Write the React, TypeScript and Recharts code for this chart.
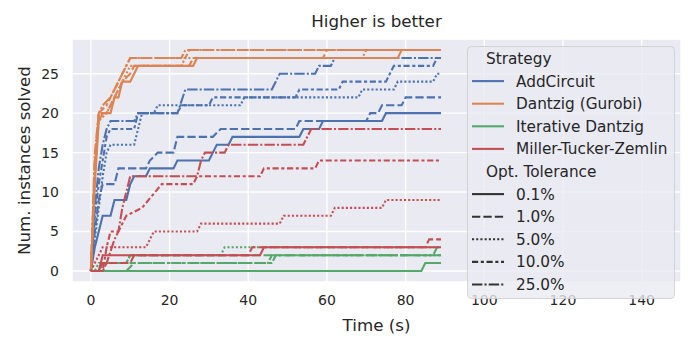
import { LineChart, Line, XAxis, YAxis, CartesianGrid } from "recharts"

type Pt = [number, number]

const BLUE = "#4C72B0"
const ORANGE = "#DD8452"
const GREEN = "#55A868"
const RED = "#C44E52"
const INK = "#262626"
const FONT = "'DejaVu Sans', sans-serif"

const STRATEGIES = ["AddCircuit", "Dantzig (Gurobi)", "Iterative Dantzig", "Miller-Tucker-Zemlin"]
const STRATEGY_COLORS = [BLUE, ORANGE, GREEN, RED]
const TOLERANCES = ["0.1%", "1.0%", "5.0%", "10.0%", "25.0%"]
// seaborn default dash cycle, scaled by the 2px line width
const DASHES = [undefined, "8.3 3.1", "2.1 2.1", "6.2 2.6 3.1 2.6", "10.4 2.1 2.1 2.1"]

const X_TICKS = [0, 20, 40, 60, 80, 100, 120, 140]
const Y_TICKS = [0, 5, 10, 15, 20, 25]

// vertices of each curve: [time (s), instances solved]
const addCircuit01: Pt[] = [[0, 0], [1, 3], [2, 5], [3, 7], [5, 7], [6, 9], [9, 9], [10, 11], [11, 12], [14, 12], [15, 13], [21, 13], [22, 14], [30, 14], [31, 15], [32, 16], [35, 16], [36, 17], [53, 17], [54, 18], [58, 18], [59, 19], [74, 19], [75, 20], [89, 20]]
const addCircuit1: Pt[] = [[0, 0], [1, 5], [2, 9], [3, 11], [6, 11], [7, 13], [14, 13], [15, 14], [17, 15], [21, 15], [22, 17], [31, 17], [33, 18], [52, 18], [53, 19], [70, 19], [71, 20], [73, 20], [74, 21], [79, 21], [80, 22], [89, 22]]
const addCircuit5: Pt[] = [[0, 0], [1, 4], [2, 8], [3, 12], [4, 15], [5, 16], [11, 16], [12, 18], [13, 20], [16, 20], [17, 21], [38, 21], [39, 22], [68, 22], [69, 23], [77, 23], [78, 24], [87, 24], [88, 25], [89, 25]]
const addCircuit10: Pt[] = [[0, 0], [1, 7], [2, 11], [3, 14], [4, 17], [5, 18], [11, 18], [12, 20], [22, 20], [23, 21], [30, 21], [31, 22], [52, 22], [53, 23], [63, 23], [64, 24], [75, 24], [77, 26], [87, 26], [88, 27], [89, 27]]
const addCircuit25: Pt[] = [[0, 0], [1, 8], [2, 13], [3, 16], [4, 18], [5, 19], [11, 19], [12, 20], [22, 20], [24, 23], [46, 23], [48, 25], [57, 25], [58, 26], [61, 26], [62, 27], [89, 27]]

const dantzig01: Pt[] = [[0, 0], [1, 11], [2, 19], [3, 20], [5, 20], [6, 22], [7, 22], [8, 24], [10, 24], [11, 25], [12, 26], [26, 26], [27, 27], [78, 27], [79, 28], [89, 28]]
const dantzig1: Pt[] = [[0, 0], [1, 12], [2, 20], [4, 20], [5, 21], [6, 22], [8, 24], [10, 25], [11, 26], [25, 26], [26, 27], [59, 27], [60, 28], [89, 28]]
const dantzig5: Pt[] = [[0, 0], [1, 13], [2, 19], [4, 20], [6, 22], [8, 24], [9, 25], [10, 26], [23, 26], [24, 27], [69, 27], [70, 28], [89, 28]]
const dantzig10: Pt[] = [[0, 0], [1, 14], [2, 20], [4, 21], [6, 23], [8, 25], [9, 26], [10, 27], [24, 27], [25, 28], [89, 28]]
const dantzig25: Pt[] = [[0, 0], [1, 15], [2, 20], [3, 21], [5, 22], [7, 24], [8, 25], [9, 26], [10, 27], [23, 27], [24, 28], [89, 28]]

const iterative01: Pt[] = [[0, 0], [84, 0], [85, 1], [89, 1]]
const iterative1: Pt[] = [[0, 0], [2, 0], [3, 1], [9, 1], [10, 2], [87, 2], [88, 3], [89, 3]]
const iterative5: Pt[] = [[0, 0], [1, 0], [2, 1], [9, 1], [10, 2], [33, 2], [34, 3], [89, 3]]
const iterative10: Pt[] = [[0, 0], [2, 0], [3, 1], [46, 1], [47, 2], [89, 2]]
const iterative25: Pt[] = [[0, 0], [9, 0], [11, 1], [45, 1], [46, 2], [89, 2]]

const mtz01: Pt[] = [[0, 0], [2, 0], [3, 2], [43, 2], [44, 3], [89, 3]]
const mtz1: Pt[] = [[0, 0], [2, 0], [3, 1], [10, 1], [11, 2], [40, 2], [41, 3], [85, 3], [86, 4], [89, 4]]
const mtz5: Pt[] = [[0, 0], [1, 1], [3, 3], [14, 3], [15, 4], [16, 5], [27, 5], [28, 6], [48, 6], [49, 7], [61, 7], [62, 8], [74, 8], [75, 9], [89, 9]]
const mtz10: Pt[] = [[0, 0], [3, 0], [4, 3], [5, 5], [7, 5], [9, 7], [13, 8], [18, 11], [26, 11], [27, 12], [43, 12], [44, 13], [57, 13], [58, 14], [89, 14]]
const mtz25: Pt[] = [[0, 0], [3, 0], [4, 1], [6, 4], [7, 5], [8, 8], [9, 10], [10, 12], [27, 12], [28, 14], [29, 15], [34, 15], [35, 16], [54, 16], [55, 17], [56, 18], [89, 18]]

const CURVES: Pt[][][] = [
  [addCircuit01, addCircuit1, addCircuit5, addCircuit10, addCircuit25],
  [dantzig01, dantzig1, dantzig5, dantzig10, dantzig25],
  [iterative01, iterative1, iterative5, iterative10, iterative25],
  [mtz01, mtz1, mtz5, mtz10, mtz25],
]

function LegendBox() {
  const rowY = (i: number) => 58.5 + i * 22.6
  const rows: { kind: "title" | "item"; label: string; color?: string; dash?: string }[] = [
    { kind: "title", label: "Strategy" },
    ...STRATEGIES.map((s, i) => ({ kind: "item" as const, label: s, color: STRATEGY_COLORS[i] })),
    { kind: "title", label: "Opt. Tolerance" },
    ...TOLERANCES.map((t, i) => ({ kind: "item" as const, label: t, color: "#333333", dash: DASHES[i] })),
  ]
  return (
    <svg width={700} height={350} style={{ position: "absolute", left: 0, top: 0, pointerEvents: "none" }}>
      <rect x={467.5} y={46.5} width={207} height={252} rx={4} fill="#EAEAF2" fillOpacity={0.8} stroke="#CCCCCC" strokeOpacity={0.8} />
      {rows.map((r, i) =>
        r.kind === "title" ? (
          <text key={i} x={486} y={rowY(i)} dy="0.36em" fontSize={15.3} fill={INK} fontFamily={FONT}>
            {r.label}
          </text>
        ) : (
          <g key={i}>
            <line x1={472} x2={504} y1={rowY(i)} y2={rowY(i)} stroke={r.color} strokeWidth={2.1} strokeDasharray={r.dash} />
            <text x={516} y={rowY(i)} dy="0.36em" fontSize={15.3} fill={INK} fontFamily={FONT}>
              {r.label}
            </text>
          </g>
        )
      )}
    </svg>
  )
}

export default function App() {
  return (
    <div style={{ position: "absolute", left: 0, top: 0, width: 700, height: 350, background: "#fff" }}>
      <LineChart width={700} height={350} margin={{ top: 39, right: 19, bottom: 0, left: 0 }}>
        <CartesianGrid fill="#EAEAF2" stroke="#ffffff" strokeWidth={1.4} />
        <XAxis
          type="number"
          dataKey="x"
          domain={[-4.8, 150]}
          ticks={X_TICKS}
          allowDataOverflow
          height={68}
          axisLine={false}
          tickLine={false}
          tickSize={0}
          tickMargin={13}
          tick={{ fill: INK, fontSize: 14, fontFamily: FONT }}
        />
        <YAxis
          type="number"
          dataKey="y"
          domain={[-1.4, 29.4]}
          ticks={Y_TICKS}
          allowDataOverflow
          width={72}
          axisLine={false}
          tickLine={false}
          tickSize={0}
          tickMargin={13}
          tick={{ fill: INK, fontSize: 14, fontFamily: FONT }}
        />
        {CURVES.map((group, s) =>
          group.map((pts, t) => (
            <Line
              key={`${s}-${t}`}
              data={pts.map(([x, y]) => ({ x, y }))}
              dataKey="y"
              type="linear"
              stroke={STRATEGY_COLORS[s]}
              strokeWidth={2.1}
              strokeDasharray={DASHES[t]}
              dot={false}
              activeDot={false}
              isAnimationActive={false}
            />
          ))
        )}
      </LineChart>
      <svg width={700} height={350} style={{ position: "absolute", left: 0, top: 0, pointerEvents: "none" }}>
        <text x={376.5} y={27} textAnchor="middle" fontSize={16.7} fill={INK} fontFamily={FONT}>
          Higher is better
        </text>
        <text x={376.5} y={331} textAnchor="middle" fontSize={16.7} fill={INK} fontFamily={FONT}>
          Time (s)
        </text>
        <text x={30} y={160.5} transform="rotate(-90 30 160.5)" textAnchor="middle" fontSize={16.7} fill={INK} fontFamily={FONT}>
          Num. instances solved
        </text>
      </svg>
      <LegendBox />
    </div>
  )
}
